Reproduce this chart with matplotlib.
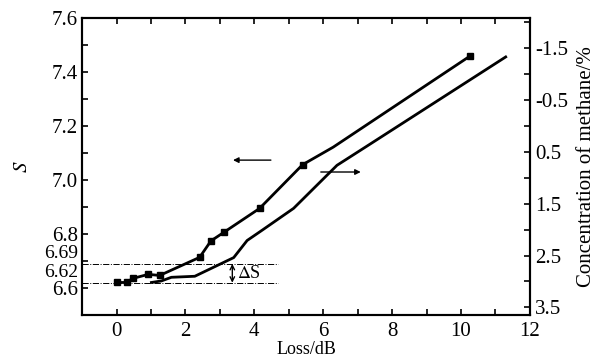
import matplotlib
matplotlib.use('Agg')
import matplotlib.pyplot as plt
from matplotlib.ticker import MultipleLocator, FixedLocator
import matplotlib.transforms as mtransforms

# S curve (left axis)
loss_s = [0.0, 0.29, 0.47, 0.92, 1.25, 2.41, 2.74, 3.13, 4.15, 5.40, 6.29, 10.26]
s_vals = [6.621, 6.621, 6.636, 6.651, 6.647, 6.714, 6.775, 6.808, 6.895, 7.057, 7.122, 7.459]
s_marked = [0, 1, 2, 3, 4, 5, 6, 7, 8, 9, 11]

# methane concentration curve (right axis, inverted)
loss_c = [1.01, 1.30, 1.59, 2.27, 3.40, 3.79, 4.23, 5.14, 6.40, 7.27, 11.30]
conc_vals = [3.02, 2.99, 2.92, 2.90, 2.54, 2.21, 2.01, 1.59, 0.76, 0.39, -1.33]

s_ticks = [6.6, 6.8, 7.0, 7.2, 7.4, 7.6]
conc_ticks = [-1.5, -0.5, 0.5, 1.5, 2.5, 3.5]
ref_levels = [6.69, 6.62]

plt.rcParams.update({
    'font.family': ['Liberation Serif', 'DejaVu Serif'],
    'font.size': 11,
    'mathtext.fontset': 'stix',
})

fig = plt.figure(figsize=(6, 3.61), dpi=100)
ax = fig.add_axes([0.137, 0.127, 0.746, 0.823])
ax2 = ax.twinx()

ax.plot(loss_s, s_vals, color='black', lw=2, marker='s', ms=4.5, markevery=s_marked)
ax2.plot(loss_c, conc_vals, color='black', lw=2)

ax.set_xlim(-1, 12)
ax.set_ylim(6.5, 7.6)
ax2.set_ylim(3.65, -2.08)

ax.xaxis.set_major_locator(MultipleLocator(2))
ax.xaxis.set_minor_locator(MultipleLocator(1))
ax.yaxis.set_major_locator(FixedLocator(s_ticks))
ax.yaxis.set_minor_locator(MultipleLocator(0.1))
ax.set_yticklabels([f'{v:.1f}' for v in s_ticks])
ax2.yaxis.set_major_locator(FixedLocator(conc_ticks))
ax2.yaxis.set_minor_locator(MultipleLocator(0.5))
ax2.set_yticklabels([f'{v:.1f}' for v in conc_ticks])

ax.tick_params(axis='x', which='both', direction='in', top=True, length=4, width=1.2, labelsize=15, pad=5)
ax.tick_params(axis='y', which='both', direction='in', length=4, width=1.2, labelsize=15, pad=3)
ax2.tick_params(axis='y', which='both', direction='in', length=4, width=1.2, labelsize=15, pad=4)
for a in (ax, ax2):
    for sp in a.spines.values():
        sp.set_linewidth(1.5)

ax.set_xlabel('Loss/dB', fontsize=13, labelpad=0)
ax.set_ylabel('$S$', fontsize=15, labelpad=14)
ax2.set_ylabel('Concentration of methane/%', fontsize=15, labelpad=6)

# extra labels for reference levels
trans = mtransforms.blended_transform_factory(ax.transAxes, ax.transData)
ax.text(-0.008, 6.728, '6.69', transform=trans, ha='right', va='center', fontsize=14)
ax.text(-0.008, 6.659, '6.62', transform=trans, ha='right', va='center', fontsize=14)

for lvl in ref_levels:
    ax.plot([-1, 4.7], [lvl, lvl], color='black', lw=0.7, ls='-.')

# delta S double arrow
ax.annotate('', xy=(3.36, ref_levels[1]), xytext=(3.36, ref_levels[0]),
            arrowprops=dict(arrowstyle='<->', color='black', lw=1, mutation_scale=8, shrinkA=0, shrinkB=0))
ax.text(3.5, 6.655, r'$\Delta$S', fontsize=13, va='center', ha='left')

# direction arrows
ax.annotate('', xy=(3.38, 7.074), xytext=(4.48, 7.074),
            arrowprops=dict(arrowstyle='-|>', color='black', lw=1, mutation_scale=8, shrinkA=0, shrinkB=0))
ax.annotate('', xy=(7.09, 7.030), xytext=(5.93, 7.030),
            arrowprops=dict(arrowstyle='-|>', color='black', lw=1, mutation_scale=8, shrinkA=0, shrinkB=0))

fig.savefig('out.png', dpi=100)
